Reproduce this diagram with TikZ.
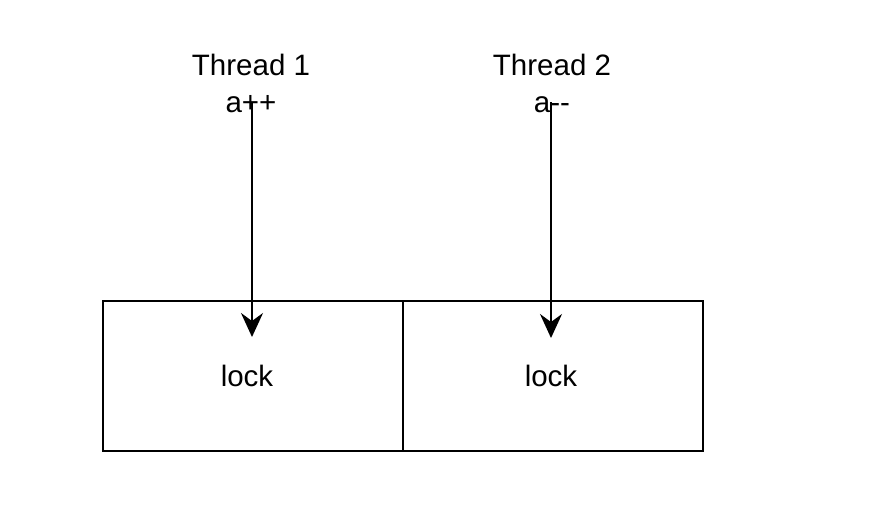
\documentclass[tikz,border=0pt]{standalone}
\usepackage{fontspec}
\setmainfont{Liberation Sans}
\usetikzlibrary{arrows.meta}
\begin{document}
\begin{tikzpicture}[x=1pt,y=-1pt,
  lbl/.style={font=\fontsize{29.5}{34}\selectfont, inner sep=0pt, anchor=base},
  cell/.style={draw=black, line width=2pt, minimum width=300pt, minimum height=150pt, inner sep=0pt, anchor=north west},
  conn/.style={draw=black, line width=2pt, -{Stealth[length=24pt,width=22pt,inset=8pt]}}]
\useasboundingbox (0,0) rectangle (890,506);
\node[cell] (box1) at (102,300) {};
\node[cell] (box2) at (402,300) {};
\node[lbl] (lock1) at (247,386) {lock};
\node[lbl] (lock2) at (551,386) {lock};
\node[lbl] (t1) at (251,75) {Thread 1};
\node[lbl] (a1) at (251,112) {a++};
\node[lbl] (t2) at (552,75) {Thread 2};
\node[lbl] (a2) at (552,112) {a{-}{-}};
\coordinate (s1) at (252,102);
\coordinate (e1) at (252,337);
\coordinate (s2) at (551,102);
\coordinate (e2) at (551,338);
\draw[conn] (s1) -- (e1);
\draw[conn] (s2) -- (e2);
\end{tikzpicture}
\end{document}
